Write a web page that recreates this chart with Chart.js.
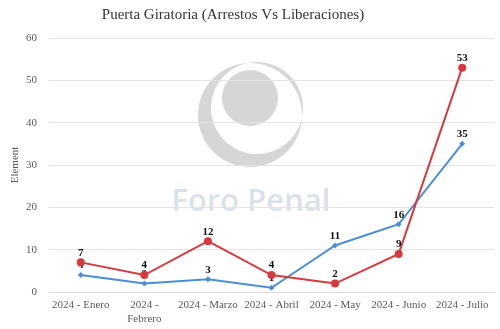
<!DOCTYPE html>
<html>
<head>
<meta charset="utf-8">
<script src="https://cdn.jsdelivr.net/npm/chart.js@4.4.1/dist/chart.umd.min.js"></script>
<style>
  html, body { margin: 0; padding: 0; background: #ffffff; overflow: hidden; }
  #wrap { width: 500px; height: 329px; }
  canvas { display: block; }
</style>
</head>
<body>
<div id="wrap"><canvas id="chart" width="500" height="329"></canvas></div>
<script>
// Monthly figures, 2024
const months = [
  '2024 - Enero',
  ['2024 -', 'Febrero'],
  '2024 - Marzo',
  '2024 - Abril',
  '2024 - May',
  '2024 - Junio',
  '2024 - Julio'
];
const arrestos = [7, 4, 12, 4, 2, 9, 53];
const liberaciones = [4, 2, 3, 1, 11, 16, 35];
const yTicks = [0, 10, 20, 30, 40, 50, 60];

const titleText = 'Puerta Giratoria (Arrestos Vs Liberaciones)';
const watermarkText = 'Foro Penal';
const serif = '"Liberation Serif", "Times New Roman", serif';

// White page, then the faint logo behind the grid
const backdrop = {
  id: 'backdrop',
  beforeDraw(chart) {
    const ctx = chart.ctx;
    ctx.save();
    ctx.fillStyle = '#ffffff';
    ctx.fillRect(0, 0, chart.width, chart.height);

    ctx.fillStyle = '#d6d6d6';
    // crescent
    ctx.beginPath();
    ctx.arc(250, 115, 52, 0, Math.PI * 2);
    ctx.arc(257, 108, 46, 0, Math.PI * 2, true);
    ctx.fill('evenodd');
    // disc
    ctx.beginPath();
    ctx.arc(250, 98, 28, 0, Math.PI * 2);
    ctx.fill();

    ctx.fillStyle = '#dae1eb';
    ctx.font = '600 31px "Open Sans", sans-serif';
    ctx.textAlign = 'center';
    ctx.textBaseline = 'alphabetic';
    ctx.fillText(watermarkText, 251, 211);
    ctx.restore();
  },
  afterDraw(chart) {
    const ctx = chart.ctx;
    ctx.save();
    ctx.fillStyle = '#333333';
    ctx.font = '15px ' + serif;
    ctx.textAlign = 'center';
    ctx.textBaseline = 'middle';
    ctx.fillText(titleText, 233, 15);
    ctx.restore();
  }
};

// Value labels above each point, drawn right after their own series
const valueLabels = {
  id: 'valueLabels',
  afterDatasetDraw(chart, args) {
    const ctx = chart.ctx;
    const meta = args.meta;
    const data = chart.data.datasets[args.index].data;
    ctx.save();
    ctx.fillStyle = '#111111';
    ctx.font = 'bold 11px ' + serif;
    ctx.textAlign = 'center';
    ctx.textBaseline = 'bottom';
    meta.data.forEach((pt, i) => {
      ctx.fillText(String(data[i]), pt.x, pt.y - 4);
    });
    ctx.restore();
  }
};

new Chart(document.getElementById('chart'), {
  type: 'line',
  data: {
    labels: months,
    datasets: [
      {
        label: 'Liberaciones',
        data: liberaciones,
        borderColor: '#4a8fd2',
        backgroundColor: '#4a8fd2',
        borderWidth: 2,
        pointRadius: 3,
        pointStyle: 'rectRot',
        pointBorderWidth: 0,
        tension: 0,
        order: 2
      },
      {
        label: 'Arrestos',
        data: arrestos,
        borderColor: '#d63a3e',
        backgroundColor: '#d63a3e',
        borderWidth: 2,
        pointRadius: 4,
        pointBorderWidth: 0,
        tension: 0,
        order: 1
      }
    ]
  },
  options: {
    responsive: false,
    animation: false,
    devicePixelRatio: 1,
    layout: { padding: { top: 38, right: 6, left: 9, bottom: 0 } },
    plugins: {
      legend: { display: false },
      title: { display: false },
      tooltip: { enabled: false }
    },
    scales: {
      x: {
        offset: true,
        grid: { display: false, drawTicks: false },
        border: { display: true, color: '#d9d9d9', width: 1 },
        ticks: {
          color: '#595959',
          font: { family: serif, size: 11 },
          maxRotation: 0,
          autoSkip: false,
          padding: 7
        },
        afterFit(axis) { axis.height = 37; }
      },
      y: {
        min: 0,
        max: 60,
        afterBuildTicks(axis) { axis.ticks = yTicks.map(v => ({ value: v })); },
        grid: { color: '#e3e3e3', lineWidth: 1, drawTicks: false },
        border: { display: false },
        ticks: {
          color: '#595959',
          font: { family: serif, size: 11 },
          padding: 12
        },
        title: {
          display: true,
          text: 'Element',
          color: '#595959',
          font: { family: serif, size: 11 },
          padding: { top: 0, bottom: 0 }
        },
        afterFit(axis) { axis.width = 40; }
      }
    }
  },
  plugins: [backdrop, valueLabels]
});
</script>
</body>
</html>
